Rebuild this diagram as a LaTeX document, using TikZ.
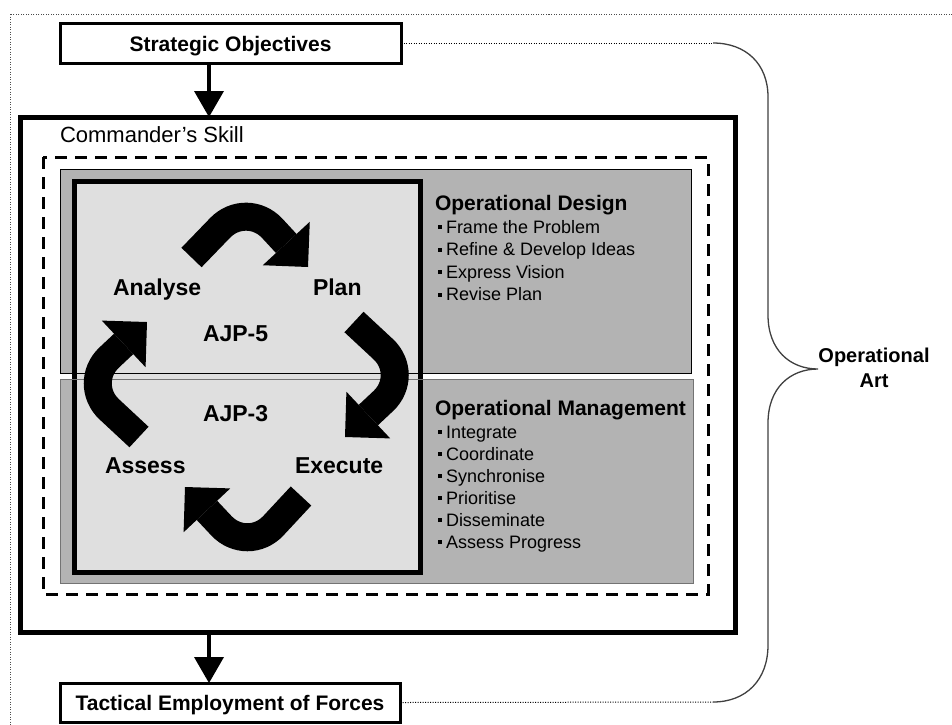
\documentclass[tikz,border=0pt]{standalone}
\usepackage{fontspec}
\setmainfont{Liberation Sans}
\usetikzlibrary{arrows.meta}
\definecolor{boxgray}{HTML}{B3B3B3}
\definecolor{lightfill}{HTML}{DFDFDF}
\newcommand{\bsq}{\rule[4pt]{4pt}{4pt}\hspace{4pt}}
\begin{document}
\begin{tikzpicture}[x=1pt,y=-1pt,
  every node/.style={inner sep=0pt, outer sep=0pt},
  titlebox/.style={draw, line width=3pt, fill=white, minimum width=341pt, minimum height=40pt,
     text height=16pt, text depth=0pt, font=\fontsize{21}{24}\selectfont\bfseries},
  framebox/.style={draw, anchor=north west},
  headtxt/.style={anchor=base west, font=\fontsize{21}{24}\selectfont\bfseries},
  itemtxt/.style={anchor=base west, font=\fontsize{18}{21}\selectfont},
  cyctxt/.style={anchor=base west, font=\fontsize{23}{26}\selectfont\bfseries},
  bigarr/.style={line width=4pt, -{Triangle[length=26pt,width=30pt,line width=0pt]}},
  cycarr/.style={line width=28pt, rounded corners=38pt, -{Triangle[length=32pt,width=64pt,line width=0pt]}},
  dots/.style={line width=1pt, dash pattern=on 1pt off 1.5pt},
  brace/.style={line width=1.3pt, black!75}
]
\useasboundingbox (0,0) rectangle (952,724);
\clip (0,0) rectangle (952,724);
\fill[white] (0,0) rectangle (952,724);
% outer dotted frame
\draw[dots, black!70] (10,14) rectangle (975,745);

% boxes
\node[titlebox] (strat) at (230.5,43) {Strategic Objectives};
\node[framebox, line width=5pt, minimum width=715pt, minimum height=515pt] (cmd) at (20,117) {};
\node[titlebox, minimum width=340pt, minimum height=39pt, text height=15pt] (tact) at (230,702.5) {Tactical Employment of Forces};

\node[anchor=base west, font=\fontsize{22}{26}\selectfont] (cs) at (60,142) {Commander's Skill};

% dashed frame
\draw[line width=3pt, dash pattern=on 12pt off 8pt] (43,157) rectangle (708,594);

% gray panels
\node[framebox, fill=boxgray, line width=0.8pt, minimum width=631pt, minimum height=204pt] (od) at (60,169) {};
\node[framebox, fill=boxgray, draw=black!55, line width=0.8pt, minimum width=633pt, minimum height=204pt] (om) at (60,379) {};
% light cycle panel
\node[framebox, fill=lightfill, line width=5pt, minimum width=346pt, minimum height=391pt] (cyc) at (74,181) {};
\draw[line width=0.8pt] (od.south west) -- (od.south east);
\draw[line width=0.8pt, black!55] (om.north west) -- (om.north east);

% connectors
\coordinate (ax) at (209,0);
\draw[bigarr] (ax |- strat.south) -- (ax |- cmd.north);
\draw[bigarr] (ax |- cmd.south) -- (ax |- tact.north);

% texts right panels
\node[headtxt] (odh) at (435,210) {Operational Design};
\node[itemtxt] (od1) at (438,233) {\bsq Frame the Problem};
\node[itemtxt] (od2) at (438,255.5) {\bsq Refine \& Develop Ideas};
\node[itemtxt] (od3) at (438,278) {\bsq Express Vision};
\node[itemtxt] (od4) at (438,300.5) {\bsq Revise Plan};

\node[headtxt] (omh) at (435,415) {Operational Management};
\node[itemtxt] (om1) at (438,438) {\bsq Integrate};
\node[itemtxt] (om2) at (438,460) {\bsq Coordinate};
\node[itemtxt] (om3) at (438,482) {\bsq Synchronise};
\node[itemtxt] (om4) at (438,504) {\bsq Prioritise};
\node[itemtxt] (om5) at (438,526) {\bsq Disseminate};
\node[itemtxt] (om6) at (438,548) {\bsq Assess Progress};

% cycle labels
\node[cyctxt] (an) at (113,295) {Analyse};
\node[cyctxt] (pl) at (313,295) {Plan};
\node[cyctxt] (ajp5) at (203,341) {AJP-5};
\node[cyctxt] (ajp3) at (203,421) {AJP-3};
\node[cyctxt] (as) at (105,473) {Assess};
\node[cyctxt] (ex) at (295,473) {Execute};

% cycle arrows
\draw[cycarr] (191.5,257.5) -- (246.5,200.5) -- (308,267);
\draw[cycarr] (354,322) -- (411,375) -- (345,437);
\draw[cycarr] (301,496) -- (247.5,553.5) -- (185,487);
\draw[cycarr] (139,437) -- (81.5,383.5) -- (147,322);

% brace
\coordinate (brtop) at (713,43);
\coordinate (brbot) at (713,702);
\coordinate (brtip) at (818,369);
\draw[brace] (brtop) .. controls (746,43) and (768,64) .. (768,97) -- (768,315)
   .. controls (768,350) and (790,369) .. (brtip)
   .. controls (790,369) and (768,388) .. (768,423) -- (768,645)
   .. controls (768,680) and (746,702) .. (brbot);
\draw[dots] (strat.east) -- (brtop);
\draw[dots] (tact.east) -- (brbot);

\node[anchor=base, font=\fontsize{20}{24}\selectfont\bfseries] (art1) at (874,362) {Operational};
\node[anchor=base, font=\fontsize{20}{24}\selectfont\bfseries] (art2) at (874,387) {Art};
\end{tikzpicture}
\end{document}
